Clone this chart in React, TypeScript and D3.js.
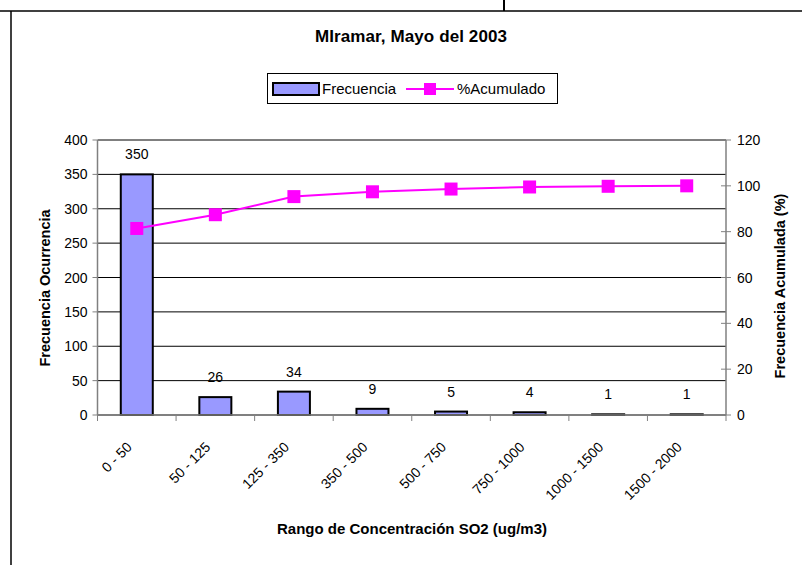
import React from "react";
import * as d3 from "d3";

const categories = ["0 - 50", "50 - 125", "125 - 350", "350 - 500", "500 - 750", "750 - 1000", "1000 - 1500", "1500 - 2000"];
const frecuencia = [350, 26, 34, 9, 5, 4, 1, 1];
const acumulado = [81.4, 87.4, 95.3, 97.4, 98.6, 99.5, 99.8, 100];
const leftTicks = [0, 50, 100, 150, 200, 250, 300, 350, 400];
const rightTicks = [0, 20, 40, 60, 80, 100, 120];

const FONT = "'Liberation Sans', Arial, sans-serif";

export default function App() {
  const W = 802, H = 565;
  const x0 = 97.5, x1 = 726, yTop = 140, yBot = 415;
  const x = d3.scaleBand<string>().domain(categories).range([x0, x1]).paddingInner(0).paddingOuter(0);
  const yL = d3.scaleLinear().domain([0, 400]).range([yBot, yTop]);
  const yR = d3.scaleLinear().domain([0, 120]).range([yBot, yTop]);
  const bw = 32;
  const cx = (c: string) => (x(c) as number) + x.bandwidth() / 2;
  const line = d3.line<number>().x((_, i) => cx(categories[i])).y((d) => yR(d));

  return (
    <svg width={W} height={H} style={{ position: "absolute", left: 0, top: 0 }} fontFamily={FONT}>
      <rect x={0} y={0} width={W} height={H} fill="#fff" />
      {/* outer frame */}
      <line x1={0} x2={W} y1={11} y2={11} stroke="#000" strokeWidth={1.5} />
      <line x1={11} x2={11} y1={11} y2={H} stroke="#000" strokeWidth={1.5} />
      <line x1={504} x2={504} y1={0} y2={11} stroke="#000" strokeWidth={2} />

      <text x={411} y={42} textAnchor="middle" fontSize={17} fontWeight="bold" letterSpacing={0.1}>MIramar, Mayo del 2003</text>

      {/* legend */}
      <rect x={267.5} y={73.5} width={290} height={30} fill="#fff" stroke="#000" strokeWidth={1} />
      <rect x={273} y={83} width={46} height={12} fill="#9999FF" stroke="#000" strokeWidth={2} />
      <text x={322} y={94} fontSize={15}>Frecuencia</text>
      <line x1={406} x2={454} y1={89} y2={89} stroke="#FF00FF" strokeWidth={2} />
      <rect x={424} y={83} width={12} height={12} fill="#FF00FF" />
      <text x={457} y={94} fontSize={15}>%Acumulado</text>

      {/* gridlines */}
      {leftTicks.map((t) => (
        <line key={"g" + t} x1={x0} x2={x1} y1={yL(t)} y2={yL(t)} stroke="#000" strokeWidth={1} />
      ))}

      {/* bars */}
      {frecuencia.map((v, i) => (
        <rect key={"b" + i} x={cx(categories[i]) - bw / 2} y={yL(v)} width={bw} height={yBot - yL(v)}
          fill="#9999FF" stroke="#000" strokeWidth={2} />
      ))}
      {frecuencia.map((v, i) => (
        <text key={"l" + i} x={cx(categories[i])} y={yL(v) - 15} textAnchor="middle" fontSize={14}>{v}</text>
      ))}

      {/* axes */}
      <line x1={x0} x2={x0} y1={yTop} y2={yBot} stroke="#808080" strokeWidth={1.5} />
      <line x1={x1} x2={x1} y1={yTop} y2={yBot} stroke="#808080" strokeWidth={1.5} />
      <line x1={x0} x2={x1} y1={yBot} y2={yBot} stroke="#808080" strokeWidth={1.5} />
      {leftTicks.map((t) => (
        <g key={"lt" + t}>
          <line x1={x0 - 5} x2={x0} y1={yL(t)} y2={yL(t)} stroke="#808080" />
          <text x={x0 - 10} y={yL(t) + 5} textAnchor="end" fontSize={14}>{t}</text>
        </g>
      ))}
      {rightTicks.map((t) => (
        <g key={"rt" + t}>
          <line x1={x1 - 5} x2={x1 + 5} y1={yR(t)} y2={yR(t)} stroke="#808080" />
          <text x={x1 + 11} y={yR(t) + 5} textAnchor="start" fontSize={14}>{t}</text>
        </g>
      ))}
      {categories.map((c, i) => (
        <line key={"ct" + i} x1={(x(c) as number)} x2={(x(c) as number)} y1={yBot} y2={yBot + 6} stroke="#808080" />
      ))}
      <line x1={x1} x2={x1} y1={yBot} y2={yBot + 6} stroke="#808080" />
      {categories.map((c) => (
        <text key={"cl" + c} transform={`translate(${cx(c) - 4},${yBot + 33}) rotate(-45)`} textAnchor="end" fontSize={14}>{c}</text>
      ))}

      {/* cumulative line */}
      <path d={line(acumulado) as string} fill="none" stroke="#FF00FF" strokeWidth={2} />
      {acumulado.map((v, i) => (
        <rect key={"m" + i} x={cx(categories[i]) - 6.5} y={yR(v) - 6.5} width={13} height={13} fill="#FF00FF" />
      ))}

      {/* axis titles */}
      <text transform={`translate(50,288) rotate(-90)`} textAnchor="middle" fontSize={14.5} fontWeight="bold">Frecuencia Ocurrencia</text>
      <text transform={`translate(785,286) rotate(-90)`} textAnchor="middle" fontSize={14.5} fontWeight="bold">Frecuencia Acumulada (%)</text>
      <text x={412} y={534} textAnchor="middle" fontSize={15} fontWeight="bold">Rango de Concentración SO2 (ug/m3)</text>
    </svg>
  );
}
